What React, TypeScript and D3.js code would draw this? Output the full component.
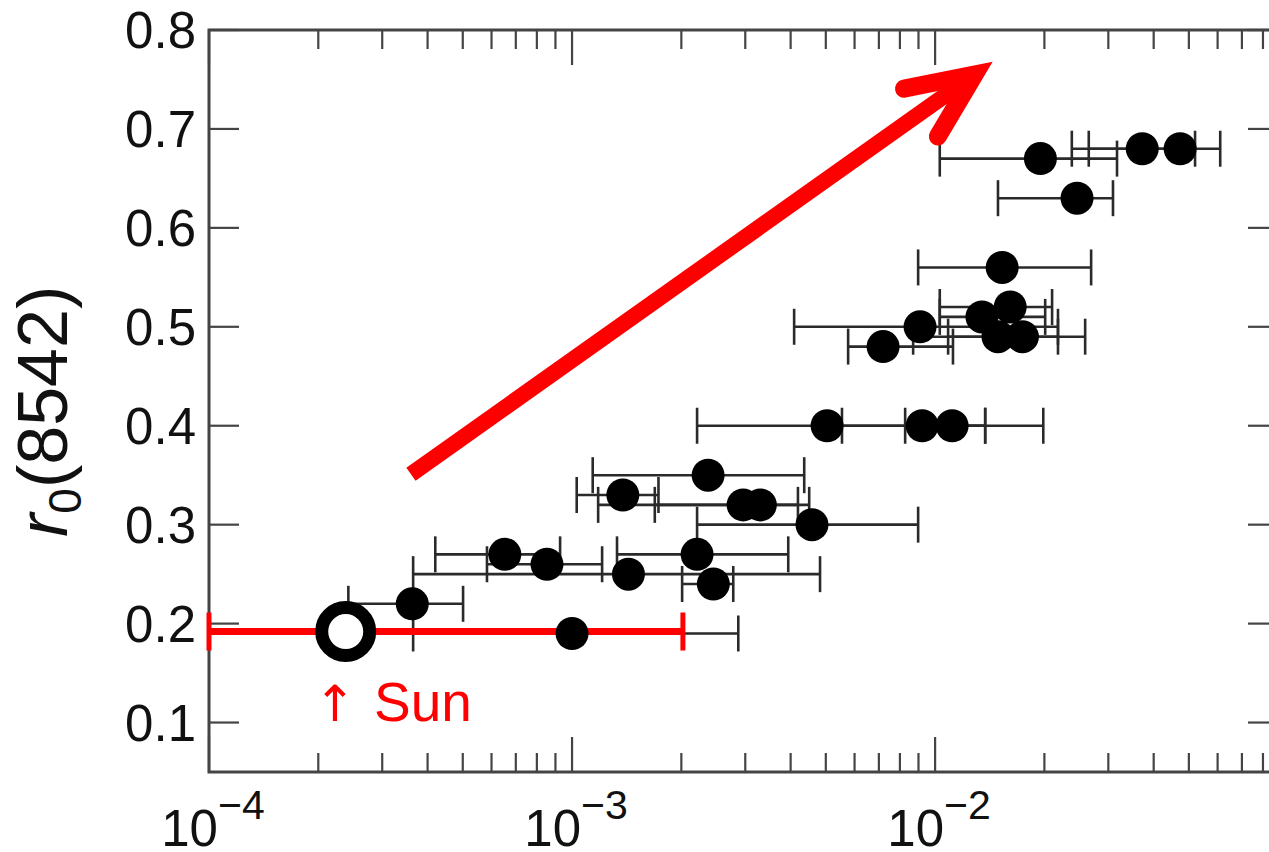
import React from 'react';
import * as d3 from 'd3';

// Equivalent-width-like quantity (x, log) and r0(8542) (y) for the stars
const ewCenter = [0.0195, 0.0372, 0.0473, 0.0246, 0.0153, 0.00909, 0.00719, 0.01346, 0.0161, 0.0149, 0.0174, 0.00504, 0.00921, 0.01114, 0.00237, 0.00138, 0.00296, 0.0033, 0.00458, 0.000653, 0.000853, 0.00143, 0.00221, 0.00245, 0.000363, 0.001];
const r0Values = [0.67, 0.68, 0.68, 0.63, 0.56, 0.5, 0.48, 0.51, 0.52, 0.49, 0.49, 0.4, 0.4, 0.4, 0.35, 0.33, 0.32, 0.32, 0.3, 0.27, 0.26, 0.25, 0.27, 0.24, 0.22, 0.19];
const ewLow = [0.0103, 0.0238, 0.0265, 0.0149, 0.00898, 0.00409, 0.00576, 0.0103, 0.0103, 0.0087, 0.01086, 0.00221, 0.00554, 0.00827, 0.00114, 0.00103, 0.00118, 0.00169, 0.00221, 0.00042, 0.000583, 0.000365, 0.00133, 0.00201, 0.000242, 0.000365];
const ewHigh = [0.0317, 0.052, 0.061, 0.0309, 0.0269, 0.0218, 0.0112, 0.0201, 0.021, 0.0218, 0.0259, 0.01374, 0.01986, 0.01374, 0.00436, 0.00173, 0.00419, 0.0045, 0.00898, 0.000927, 0.00121, 0.00482, 0.00394, 0.00278, 0.000501, 0.00287];

// The Sun
const sunEw = 0.000238;
const sunR0 = 0.192;
const sunEwLow = 0.0001;
const sunEwHigh = 0.00202;

const yTicks = [0.1, 0.2, 0.3, 0.4, 0.5, 0.6, 0.7, 0.8];
const xMajorTicks = [1e-4, 1e-3, 1e-2];
const xTickExponents = ['\u22124', '\u22123', '\u22122'];

// Red trend arrow (data coordinates)
const arrowFrom = [0.00036, 0.351];
const arrowTo = [0.01374, 0.7626];

const FONT = '"Liberation Sans", Arial, Helvetica, sans-serif';

export default function App() {
  const W = 1269;
  const H = 852;
  const x = d3.scaleLog().domain([1e-4, 0.088]).range([209, 1278]);
  const y = d3.scaleLinear().domain([0.05, 0.8]).range([772, 30]);
  const [x0, x1] = x.range();
  const [yb, yt] = y.range();

  const minor: number[] = [];
  for (let k = -4; k <= -1; k++) {
    for (let m = 2; m <= 9; m++) {
      const v = m * Math.pow(10, k);
      if (v < x.domain()[1]) minor.push(v);
    }
  }

  const axisColor = '#444';
  const capH = 18;

  // arrow geometry
  const ax0 = x(arrowFrom[0]);
  const ay0 = y(arrowFrom[1]);
  const ax1 = x(arrowTo[0]);
  const ay1 = y(arrowTo[1]);
  const dx = ax1 - ax0;
  const dy = ay1 - ay0;
  const len = Math.hypot(dx, dy);
  const ux = dx / len;
  const uy = dy / len;
  const vx = ax1 - ux * 13;
  const vy = ay1 - uy * 13;
  const back = Math.atan2(-uy, -ux);
  const barbAng = (24 * Math.PI) / 180;
  const barbLen = 72;
  const b1 = [vx + barbLen * Math.cos(back + barbAng), vy + barbLen * Math.sin(back + barbAng)];
  const b2 = [vx + barbLen * Math.cos(back - barbAng), vy + barbLen * Math.sin(back - barbAng)];

  return (
    <svg width={W} height={H} style={{ position: 'absolute', left: 0, top: 0, background: '#fff' }} fontFamily={FONT}>
      <rect x={0} y={0} width={W} height={H} fill="#fff" />
      {/* frame */}
      <rect x={x0} y={yt} width={x1 - x0} height={yb - yt} fill="none" stroke={axisColor} strokeWidth={3} />
      {/* x ticks */}
      {minor.map((v, i) => (
        <g key={'mn' + i} stroke={axisColor} strokeWidth={2.2}>
          <line x1={x(v)} x2={x(v)} y1={yb} y2={yb - 19} />
          <line x1={x(v)} x2={x(v)} y1={yt} y2={yt + 19} />
        </g>
      ))}
      {xMajorTicks.map((v, i) => (
        <g key={'mj' + i} stroke={axisColor} strokeWidth={2.2}>
          <line x1={x(v)} x2={x(v)} y1={yb} y2={yb - 35} />
          <line x1={x(v)} x2={x(v)} y1={yt} y2={yt + 35} />
        </g>
      ))}
      {xMajorTicks.map((v, i) => (
        <text key={'xl' + i} x={x(v) + 4} y={846} textAnchor="middle" fontSize={51} fill="#111">
          10
          <tspan fontSize={41} dy={-27}>{xTickExponents[i]}</tspan>
        </text>
      ))}
      {/* y ticks */}
      {yTicks.map((v, i) => (
        <g key={'yt' + i}>
          <line x1={x0} x2={x0 + 30} y1={y(v)} y2={y(v)} stroke={axisColor} strokeWidth={2.2} />
          <line x1={x1} x2={x1 - 30} y1={y(v)} y2={y(v)} stroke={axisColor} strokeWidth={2.2} />
          <text x={196} y={y(v)} dy="0.36em" textAnchor="end" fontSize={51} fill="#111">
            {v.toFixed(1)}
          </text>
        </g>
      ))}
      {/* y axis title */}
      <text transform={`translate(67, 537) rotate(-90)`} fontSize={70} fill="#111">
        <tspan fontStyle="italic">r</tspan>
        <tspan fontSize={46} dy={14}>0</tspan>
        <tspan dy={-14}>(8542)</tspan>
      </text>
      {/* error bars */}
      {ewCenter.map((c, i) => {
        const yy = y(r0Values[i]);
        return (
          <g key={'eb' + i} stroke="#2a2a2a" strokeWidth={2.6}>
            <line x1={x(ewLow[i])} x2={x(ewHigh[i])} y1={yy} y2={yy} />
            <line x1={x(ewLow[i])} x2={x(ewLow[i])} y1={yy - capH} y2={yy + capH} />
            <line x1={x(ewHigh[i])} x2={x(ewHigh[i])} y1={yy - capH} y2={yy + capH} />
          </g>
        );
      })}
      {/* sun error bar */}
      <g stroke="#ff0000">
        <line x1={x(sunEwLow)} x2={x(sunEwHigh)} y1={y(sunR0)} y2={y(sunR0)} strokeWidth={7} />
        <line x1={x(sunEwLow)} x2={x(sunEwLow)} y1={y(sunR0) - 19} y2={y(sunR0) + 19} strokeWidth={5} />
        <line x1={x(sunEwHigh)} x2={x(sunEwHigh)} y1={y(sunR0) - 19} y2={y(sunR0) + 19} strokeWidth={5} />
      </g>
      {/* points */}
      {ewCenter.map((c, i) => (
        <circle key={'pt' + i} cx={x(c)} cy={y(r0Values[i])} r={16.5} fill="#000" />
      ))}
      {/* Sun */}
      <circle cx={x(sunEw)} cy={y(sunR0)} r={24} fill="#fff" stroke="#000" strokeWidth={13} />
      <text x={335} y={721} textAnchor="middle" fontSize={50} fill="#ff0000" fontFamily='"DejaVu Sans", sans-serif'>↑</text>
      <text x={374} y={721} fontSize={55} fill="#ff0000">Sun</text>
      {/* arrow */}
      <line x1={ax0} y1={ay0} x2={vx} y2={vy} stroke="#ff0000" strokeWidth={16} strokeLinecap="butt" />
      <path
        d={`M${b1[0]},${b1[1]} L${vx},${vy} L${b2[0]},${b2[1]}`}
        fill="none"
        stroke="#ff0000"
        strokeWidth={18}
        strokeLinejoin="miter"
        strokeLinecap="round"
      />
    </svg>
  );
}
